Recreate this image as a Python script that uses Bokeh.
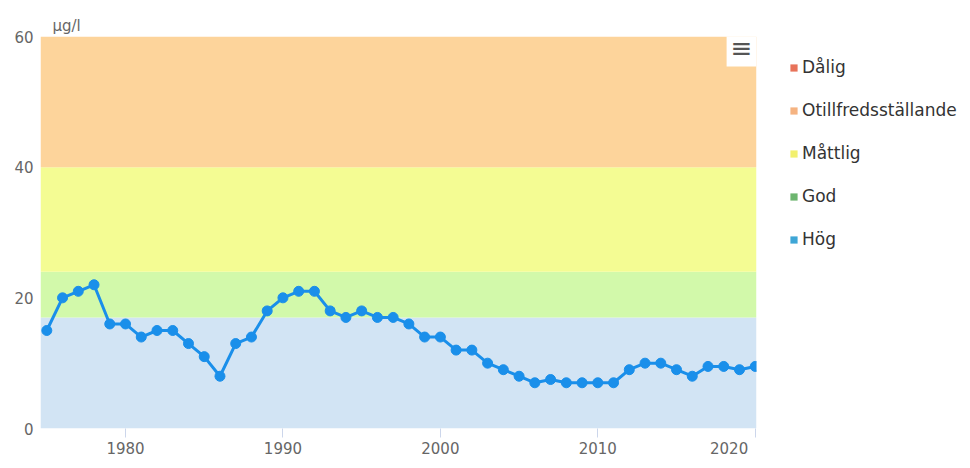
from bokeh.plotting import figure
from bokeh.layouts import row
from bokeh.models import (Range1d, BoxAnnotation, Legend, LegendItem, Label,
                          FixedTicker, ColumnDataSource)
from bokeh.embed import file_html
from bokeh.resources import INLINE

years = list(range(1975, 2021))
values = [15, 20, 21, 22, 16, 16, 14, 15, 15, 13, 11, 8, 13, 14, 18, 20, 21, 21,
          18, 17, 18, 17, 17, 16, 14, 14, 12, 12, 10, 9, 8, 7, 7.5, 7, 7, 7, 7,
          9, 10, 10, 9, 8, 9.5, 9.5, 9, 9.5]

band_bottoms = [0, 17, 24, 40]
band_tops = [17, 24, 40, 60]
band_colors = ["#d2e4f4", "#d2f9aa", "#f4fc93", "#fdd49b"]

legend_labels = ["Dålig", "Otillfredsställande", "Måttlig", "God", "Hög"]
legend_colors = ["#e8735a", "#f5b381", "#f2f06e", "#6db56f", "#3ea6d6"]

x_ticks = [1980, 1990, 2000, 2010, 2020]
y_ticks = [0, 20, 40, 60]
unit_label = "µg/l"

H = 460
p = figure(width=762, height=H, output_backend="svg", toolbar_location=None,
           x_range=Range1d(1974.6, 2020.08), y_range=Range1d(0, 60),
           min_border_left=40, min_border_right=6, min_border_top=36,
           min_border_bottom=23)
p.outline_line_color = None
p.xgrid.visible = False
p.ygrid.visible = False
p.background_fill_color = "white"

p.title.text = unit_label
p.title.align = "left"
p.title.offset = 12
p.title.standoff = 3
p.title.vertical_align = "bottom"
p.title.text_font = "DejaVu Sans"
p.title.text_font_size = "15px"
p.title.text_font_style = "normal"
p.title.text_color = "#666666"

for b, t, c in zip(band_bottoms, band_tops, band_colors):
    p.add_layout(BoxAnnotation(bottom=b, top=t, fill_color=c, fill_alpha=1,
                               line_color=None, level="underlay"))

src = ColumnDataSource(dict(x=years, y=values))
p.line("x", "y", source=src, line_color="#1a8fea", line_width=3)
p.scatter("x", "y", source=src, size=10, fill_color="#1a8fea", line_color="#1a8fea")

nb = "\u00a0"
p.xaxis.ticker = FixedTicker(ticks=x_ticks)
p.xaxis.major_label_overrides = {2020: "2020" + nb * 3}
p.xaxis.axis_line_color = None
p.xaxis.major_tick_line_color = "#ccd6eb"
p.xaxis.major_tick_out = 9
p.xaxis.major_tick_in = 0
p.xaxis.minor_tick_line_color = None
p.xaxis.major_label_standoff = 2
p.xaxis.major_label_text_font = "DejaVu Sans"
p.xaxis.major_label_text_font_size = "15px"
p.xaxis.major_label_text_color = "#666666"

p.yaxis.ticker = FixedTicker(ticks=y_ticks)
p.yaxis.axis_line_color = None
p.yaxis.major_tick_line_color = None
p.yaxis.minor_tick_line_color = None
p.yaxis.major_tick_out = 0
p.yaxis.major_label_standoff = 7
p.yaxis.major_label_text_font = "DejaVu Sans"
p.yaxis.major_label_text_font_size = "15px"
p.yaxis.major_label_text_color = "#666666"

# menu button
p.add_layout(Label(x=701, y=381, x_units="screen", y_units="screen", text="≡",
                   text_align="center", text_baseline="middle",
                   text_font="DejaVu Sans", text_font_size="26px",
                   text_color="#555555", background_fill_color="white",
                   padding=4))

# legend in a separate blank figure
q = figure(width=206, height=H, output_backend="svg", toolbar_location=None,
           x_range=Range1d(0, 1), y_range=Range1d(0, 1),
           x_axis_type=None, y_axis_type=None,
           min_border_left=0, min_border_right=0, min_border_top=0,
           min_border_bottom=0)
q.outline_line_color = None
q.xgrid.visible = False
q.ygrid.visible = False

items = []
nan = float("nan")
for lab, col in zip(legend_labels, legend_colors):
    r = q.quad(left=[nan], right=[nan], bottom=[nan], top=[nan],
               fill_color=col, line_color=None)
    items.append(LegendItem(label=lab, renderers=[r]))
legend = Legend(items=items, location=(27, 179), orientation="vertical",
                glyph_width=9, glyph_height=9, label_standoff=4, spacing=23,
                padding=0, margin=0, border_line_color=None,
                background_fill_alpha=0, label_text_font="DejaVu Sans",
                label_text_font_size="17px", label_text_color="#333333",
                label_height=20)
q.add_layout(legend)

layout = row(p, q, spacing=0)
open("out.html", "w").write(file_html(layout, INLINE))
